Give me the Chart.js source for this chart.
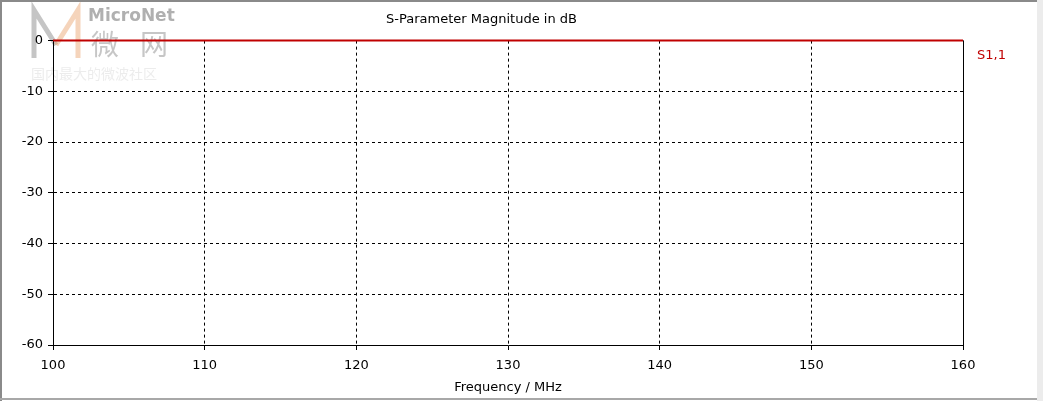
<!DOCTYPE html>
<html>
<head>
<meta charset="utf-8">
<script src="https://cdn.jsdelivr.net/npm/chart.js@4"></script>
<style>
  html, body { margin: 0; padding: 0; background: #fff; }
  #wrap { width: 1043px; height: 401px; position: relative; }
</style>
</head>
<body>
<div id="wrap"><canvas id="sparam"></canvas></div>
<script>
// datos de la curva S1,1 (plana en 0 dB)
const freqMHz = [100, 160];
const s11dB = [0, 0];
const xTicks = [100, 110, 120, 130, 140, 150, 160];
const yTicks = [0, -10, -20, -30, -40, -50, -60];
const seriesName = 'S1,1';
const RED = '#c00000';
const FONT = 'DejaVu Sans, Verdana, sans-serif';

// marca de agua + marco de la ventana
const decor = {
    id: 'decor',
    beforeDraw(chart) {
        const ctx = chart.ctx;
        ctx.save();
        ctx.fillStyle = '#fff';
        ctx.fillRect(0, 0, chart.width, chart.height);
        // logo simplificado
        ctx.lineWidth = 5;
        ctx.strokeStyle = 'rgba(150,150,150,0.55)';
        ctx.beginPath();
        ctx.moveTo(34, 58); ctx.lineTo(34, 10); ctx.lineTo(56, 45);
        ctx.stroke();
        ctx.strokeStyle = 'rgba(235,170,120,0.5)';
        ctx.beginPath();
        ctx.moveTo(56, 45); ctx.lineTo(78, 10); ctx.lineTo(78, 58);
        ctx.stroke();
        ctx.textBaseline = 'middle';
        ctx.fillStyle = 'rgba(150,150,150,0.75)';
        ctx.font = 'bold 17px ' + FONT;
        ctx.fillText('MicroNet', 88, 17);
        ctx.fillStyle = 'rgba(160,160,160,0.6)';
        ctx.font = '28px "Noto Sans CJK SC"';
        ctx.fillText('微', 91, 44);
        ctx.fillText('网', 140, 44);
        ctx.fillStyle = 'rgba(200,200,200,0.35)';
        ctx.font = '14px "Noto Sans CJK SC"';
        ctx.fillText('国内最大的微波社区', 31, 74);
        ctx.restore();
    },
    afterDraw(chart) {
        const ctx = chart.ctx;
        const a = chart.chartArea;
        const y = chart.scales.y;
        ctx.save();
        // borde derecho del área
        ctx.strokeStyle = '#000';
        ctx.lineWidth = 1;
        ctx.beginPath();
        ctx.moveTo(Math.round(a.right) + 0.5, a.top);
        ctx.lineTo(Math.round(a.right) + 0.5, a.bottom + 5);
        ctx.stroke();
        // etiqueta de la serie
        ctx.fillStyle = RED;
        ctx.font = '13px ' + FONT;
        ctx.textBaseline = 'middle';
        ctx.fillText(seriesName, a.right + 14, y.getPixelForValue(s11dB[s11dB.length - 1]) + 15);
        // marco
        ctx.fillStyle = '#8a8a8a';
        ctx.fillRect(0, 0, chart.width, 2);
        ctx.fillRect(0, 0, 2, chart.height);
        ctx.fillStyle = '#a8a8a8';
        ctx.fillRect(0, 398, chart.width, 2);
        ctx.fillStyle = '#ececec';
        ctx.fillRect(1037, 0, 6, chart.height);
        ctx.restore();
    }
};

Chart.defaults.font.family = FONT;
Chart.defaults.font.size = 13;
Chart.defaults.color = '#000';

new Chart(document.getElementById('sparam').getContext('2d'), {
    type: 'line',
    data: {
        datasets: [{
            label: seriesName,
            data: freqMHz.map((f, i) => ({ x: f, y: s11dB[i] })),
            borderColor: RED,
            borderWidth: 2,
            pointRadius: 0,
            tension: 0,
            clip: false
        }]
    },
    options: {
        responsive: true,
        maintainAspectRatio: false,
        animation: false,
        layout: { padding: { left: 0, right: 80, top: 1, bottom: 0 } },
        plugins: {
            legend: { display: false },
            tooltip: { enabled: false },
            title: {
                display: true,
                text: 'S-Parameter Magnitude in dB',
                color: '#000',
                font: { size: 13, weight: 'normal' },
                padding: { top: 11, bottom: 13 }
            }
        },
        scales: {
            x: {
                type: 'linear',
                min: 100, max: 160,
                afterBuildTicks: s => { s.ticks = xTicks.map(v => ({ value: v })); },
                afterFit: s => { s.height = 56; },
                ticks: { padding: 8, maxRotation: 0, color: '#000' },
                grid: { color: '#000', lineWidth: 1, tickLength: 5, tickColor: '#000' },
                border: { color: '#000', width: 1, dash: [3, 3] },
                title: { display: true, text: 'Frequency / MHz', color: '#000', padding: { top: 4, bottom: 6 } }
            },
            y: {
                min: -60, max: 0,
                afterBuildTicks: s => { s.ticks = yTicks.map(v => ({ value: v })); },
                afterFit: s => { s.width = 53; },
                ticks: { padding: 5, color: '#000' },
                grid: { color: '#000', lineWidth: 1, tickLength: 5, tickColor: '#000' },
                border: { color: '#000', width: 1, dash: [3, 3] }
            }
        }
    },
    plugins: [decor]
});
</script>
</body>
</html>
